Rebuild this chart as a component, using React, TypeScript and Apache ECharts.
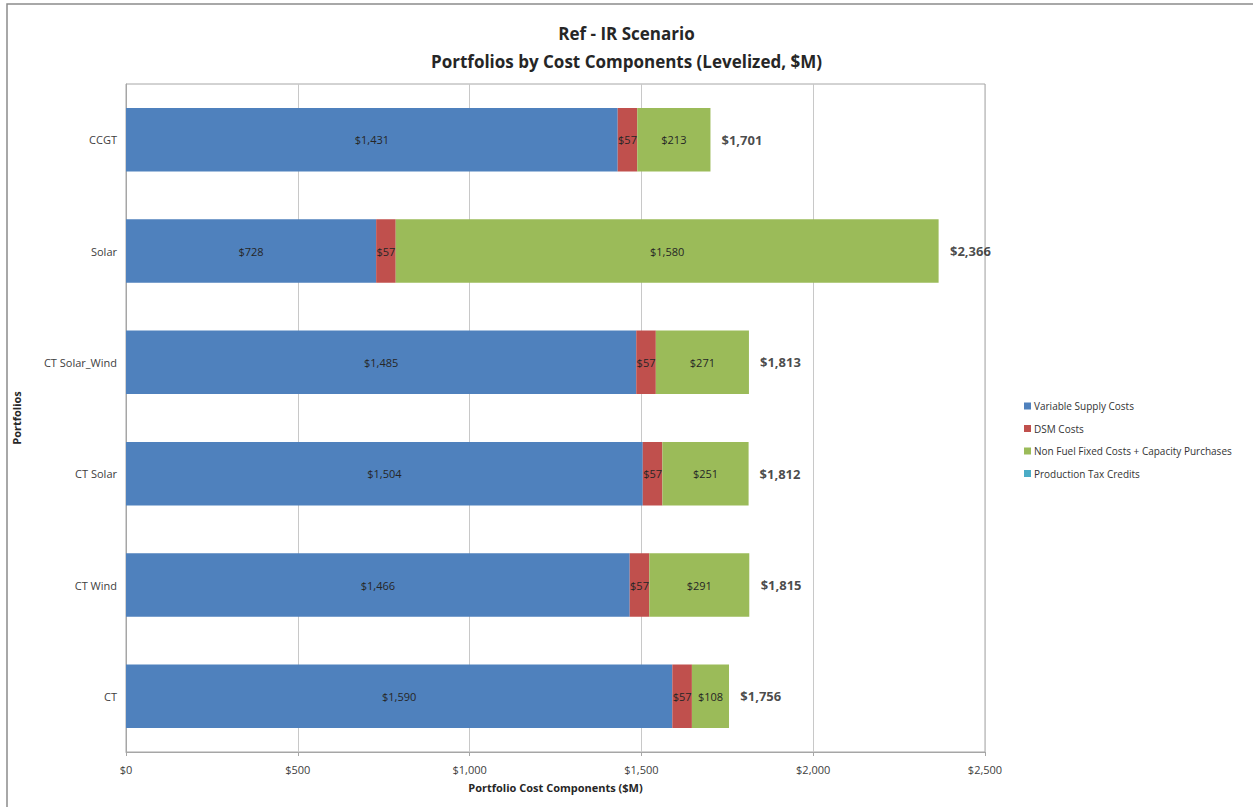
import React, { useEffect, useRef } from "react";
import * as echarts from "echarts";

const categories = ["CT", "CT Wind", "CT Solar", "CT Solar_Wind", "Solar", "CCGT"];
const variableSupply = [1590, 1466, 1504, 1485, 728, 1431];
const dsmCosts = [57, 57, 57, 57, 57, 57];
const nonFuelFixed = [108, 291, 251, 271, 1580, 213];
const productionTaxCredits = [0, 0, 0, 0, 0, 0];
const totals = [1756, 1815, 1812, 1813, 2366, 1701];
const xTicks = [0, 500, 1000, 1500, 2000, 2500];

const FONT = "'Open Sans', 'Noto Sans', sans-serif";
const money = (v: number) => "$" + Math.round(v).toLocaleString("en-US");

export default function App() {
  const ref = useRef<HTMLDivElement>(null);
  useEffect(() => {
    if (!ref.current) return;
    const chart = echarts.init(ref.current, null, { renderer: "svg" });
    const segLabel = {
      show: true,
      position: "inside",
      color: "#262626",
      fontSize: 11,
      fontFamily: FONT,
      formatter: (p: any) => money(p.value),
    };
    chart.setOption({
      animation: false,
      backgroundColor: "#ffffff",
      textStyle: { fontFamily: FONT },
      title: {
        text: "Ref - IR Scenario\nPortfolios by Cost Components (Levelized, $M)",
        left: "center",
        top: 14,
        textStyle: {
          fontFamily: FONT,
          fontSize: 17,
          fontWeight: "bold",
          color: "#262626",
          lineHeight: 28,
        },
      },
      graphic: [
        {
          type: "rect",
          shape: { x: 7, y: 4, width: 1300, height: 900 },
          style: { fill: "none", stroke: "#8c8c8c", lineWidth: 1.5 },
          silent: true,
        },
      ],
      legend: {
        orient: "vertical",
        left: 1019,
        top: 396,
        itemWidth: 7,
        itemHeight: 7,
        itemGap: 12.5,
        icon: "rect",
        textStyle: { fontSize: 10, color: "#333", fontFamily: FONT, padding: [0, 0, 0, -2] },
        data: [
          "Variable Supply Costs",
          "DSM Costs",
          "Non Fuel Fixed Costs + Capacity Purchases",
          "Production Tax Credits",
        ],
      },
      grid: {
        left: 126,
        right: 268,
        top: 84,
        bottom: 55,
        show: true,
        borderColor: "#a6a6a6",
        borderWidth: 1,
        containLabel: false,
      },
      xAxis: {
        type: "value",
        min: xTicks[0],
        max: xTicks[xTicks.length - 1],
        interval: 500,
        name: "Portfolio Cost Components ($M)",
        nameLocation: "middle",
        nameGap: 30,
        nameTextStyle: { fontSize: 11, fontWeight: "bold", color: "#262626", fontFamily: FONT },
        axisLine: { show: true, lineStyle: { color: "#a6a6a6" } },
        axisTick: { show: true, length: 4, lineStyle: { color: "#a6a6a6" } },
        axisLabel: {
          fontSize: 11,
          color: "#404040",
          margin: 12,
          fontFamily: FONT,
          formatter: (v: number) => money(v),
        },
        splitLine: { show: true, lineStyle: { color: "#c8c8c8" } },
      },
      yAxis: {
        type: "category",
        data: categories,
        name: "Portfolios",
        nameLocation: "middle",
        nameGap: 104,
        nameRotate: 90,
        nameTextStyle: { fontSize: 11, fontWeight: "bold", color: "#262626", fontFamily: FONT },
        axisLine: { show: true, lineStyle: { color: "#a6a6a6" } },
        axisTick: { show: false },
        axisLabel: { fontSize: 11, color: "#404040", margin: 9, fontFamily: FONT },
      },
      series: [
        {
          name: "Variable Supply Costs",
          type: "bar",
          stack: "total",
          barCategoryGap: "43%",
          data: variableSupply,
          itemStyle: { color: "#4f81bd" },
          label: segLabel,
        },
        {
          name: "DSM Costs",
          type: "bar",
          stack: "total",
          data: dsmCosts,
          itemStyle: { color: "#c0504d" },
          label: segLabel,
        },
        {
          name: "Non Fuel Fixed Costs + Capacity Purchases",
          type: "bar",
          stack: "total",
          data: nonFuelFixed,
          itemStyle: { color: "#9bbb59" },
          label: segLabel,
        },
        {
          name: "Production Tax Credits",
          type: "bar",
          stack: "total",
          data: productionTaxCredits,
          itemStyle: { color: "#4bacc6" },
          label: { show: false },
        },
        {
          name: "Total",
          type: "scatter",
          data: totals.map((t, i) => [t, categories[i]]),
          symbolSize: 0,
          itemStyle: { color: "transparent" },
          label: {
            show: true,
            position: "right",
            distance: 11,
            fontSize: 13,
            fontWeight: "bold",
            color: "#1a1a1a",
            fontFamily: FONT,
            formatter: (p: any) => money(p.value[0]),
          },
          silent: true,
        },
      ],
    });
    return () => chart.dispose();
  }, []);
  return (
    <div
      ref={ref}
      style={{ position: "absolute", left: 0, top: 0, width: 1253, height: 807 }}
    />
  );
}
